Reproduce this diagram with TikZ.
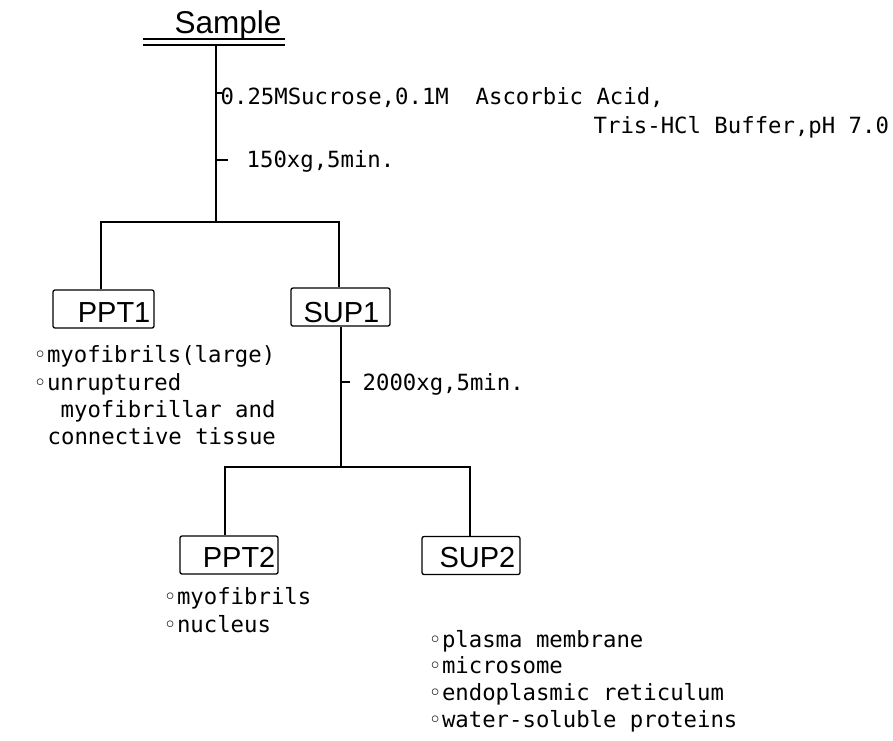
\documentclass[tikz,border=0pt]{standalone}
\usepackage{fontspec}
\setmonofont{DejaVu Sans Mono}
\setsansfont{Liberation Sans}
\newfontfamily\symfont{DejaVu Sans}
\newcommand{\bul}{\makebox[0.6em][l]{\symfont\char"25E6}}
\begin{document}
\begin{tikzpicture}[x=1pt,y=-1pt,line width=1.3pt,
  txt/.style={font=\fontsize{22.3}{27}\selectfont\ttfamily,inner sep=0pt,anchor=base west},
  lbl/.style={font=\fontsize{29}{29}\selectfont\sffamily,inner sep=0pt,anchor=base east},
  box/.style={draw,rounded corners=2pt,inner sep=0pt,minimum height=38pt}]
\useasboundingbox (0,0) rectangle (893,740);
% title
\node[lbl,anchor=base west,font=\fontsize{31.5}{32}\selectfont\sffamily] (sample) at (174,33) {Sample};
\coordinate (ul1a) at (143,39); \coordinate (ul1b) at (285,39);
\coordinate (ul2a) at (143,45); \coordinate (ul2b) at (285,45);
\draw (ul1a) -- (ul1b);
\draw (ul2a) -- (ul2b);
% boxes
\node[box,minimum width=101pt] (ppt1) at (103.5,309) {};
\node[box,minimum width=99pt] (sup1) at (340.5,307) {};
\node[box,minimum width=98pt] (ppt2) at (229,555) {};
\node[box,minimum width=98pt] (sup2) at (471,555.5) {};
\node[lbl] (ppt1t) at (151,322) {PPT1};
\node[lbl] (sup1t) at (380,322) {SUP1};
\node[lbl] (ppt2t) at (276,567) {PPT2};
\node[lbl] (sup2t) at (516,567) {SUP2};
% junctions
\coordinate (top) at (216,45);
\coordinate (j1) at (216,222);
\coordinate (j1l) at (101,222);
\coordinate (j1r) at (339,222);
\coordinate (j2) at (341,467);
\coordinate (j2l) at (225,467);
\coordinate (j2r) at (470,467);
\coordinate (t1) at (216,93); \coordinate (t1e) at (222,93);
\coordinate (t2) at (216,160); \coordinate (t2e) at (228,160);
\coordinate (t3) at (341,382); \coordinate (t3e) at (350,382);
\draw (top) -- (j1);
\draw (ppt1.north -| j1l) -- (j1l) -- (j1r) -- (sup1.north -| j1r);
\draw (t1) -- (t1e);
\draw (t2) -- (t2e);
\draw (sup1.south -| j2) -- (j2);
\draw (t3) -- (t3e);
\draw (ppt2.north -| j2l) -- (j2l) -- (j2r) -- (sup2.north -| j2r);
% conditions
\node[txt] (c1) at (220,104) {0.25MSucrose,0.1M\ \ Ascorbic Acid,};
\node[txt] (c2) at (593,133) {Tris-HCl Buffer,pH 7.0};
\node[txt] (c3) at (246,167) {150xg,5min.};
\node[txt] (c4) at (362,390) {2000xg,5min.};
% PPT1 contents
\node[txt] (p1a) at (33,362) {\bul myofibrils(large)};
\node[txt] (p1b) at (33,390) {\bul unruptured};
\node[txt] (p1c) at (60,417) {myofibrillar and};
\node[txt] (p1d) at (47,444) {connective tissue};
% PPT2 contents
\node[txt] (p2a) at (163,604) {\bul myofibrils};
\node[txt] (p2b) at (163,632) {\bul nucleus};
% SUP2 contents
\node[txt] (s2a) at (428,647) {\bul plasma membrane};
\node[txt] (s2b) at (428,673) {\bul microsome};
\node[txt] (s2c) at (428,700) {\bul endoplasmic reticulum};
\node[txt] (s2d) at (428,727) {\bul water-soluble proteins};
\end{tikzpicture}
\end{document}
